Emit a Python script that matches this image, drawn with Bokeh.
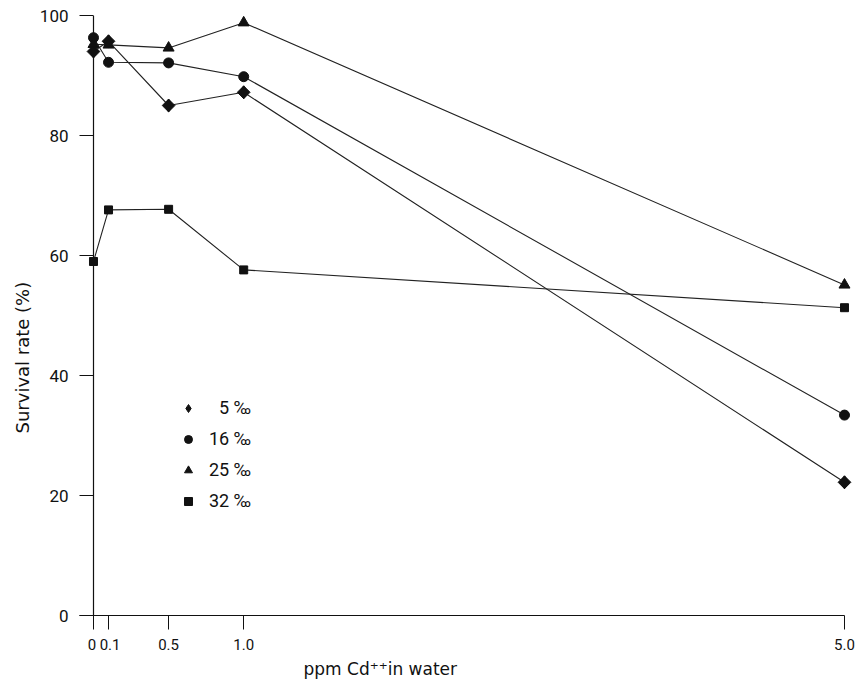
import math
from bokeh.plotting import figure
from bokeh.models import FixedTicker, Legend, LegendItem, Range1d, Title
from bokeh.embed import file_html
from bokeh.resources import INLINE

# ---- data ----
conc = [0, 0.1, 0.5, 1.0, 5.0]
surv_5 = [94.0, 95.7, 85.0, 87.2, 22.2]
surv_16 = [96.3, 92.2, 92.1, 89.8, 33.4]
surv_25 = [95.2, 95.1, 94.6, 98.8, 55.1]
surv_32 = [59.0, 67.6, 67.7, 57.6, 51.3]
series_labels = ["\u20075 ‰", "16 ‰", "25 ‰", "32 ‰"]
x_ticks = [0, 0.1, 0.5, 1.0, 5.0]
x_tick_labels = ["0\u2009", "\u20090.1", "0.5", "1.0", "5.0"]
y_ticks = [0, 20, 40, 60, 80, 100]
x_title = "ppm Cd\u207a\u207ain water"
y_title = "Survival rate (%)"

FONT = "Roboto"
TFONT = "DejaVu Sans"
INK = "#111111"

x0 = -0.0932
p = figure(width=859, height=679,
           x_range=Range1d(x0, 5.0866), y_range=Range1d(0, 100),
           output_backend="svg", toolbar_location=None,
           min_border_left=79, min_border_right=2,
           min_border_top=15, min_border_bottom=64)
p.outline_line_color = None
p.grid.visible = False
p.background_fill_color = "white"

# axes
xa = p.xaxis[0]
xa.ticker = FixedTicker(ticks=x_ticks)
xa.major_label_overrides = {t: l for t, l in zip(x_ticks, x_tick_labels)}
xa.bounds = (x0, 5.0)
xa.major_tick_in = 0
xa.major_tick_out = 14
xa.minor_tick_line_color = None
xa.axis_line_color = INK
xa.major_tick_line_color = INK
xa.major_label_standoff = 6
xa.major_label_text_font = FONT
xa.major_label_text_font_size = "15px"
xa.major_label_text_color = INK

ya = p.yaxis[0]
ya.ticker = FixedTicker(ticks=y_ticks)
ya.major_tick_in = 14
ya.major_tick_out = 0
ya.minor_tick_line_color = None
ya.axis_line_color = None
ya.major_tick_line_color = INK
ya.major_label_standoff = 11
ya.major_label_text_font = FONT
ya.major_label_text_font_size = "17px"
ya.major_label_text_color = INK

# y axis line at x = 0
p.segment(x0=[0], y0=[0], x1=[0], y1=[100], line_color=INK, line_width=1.2)

# (values, plot marker, size, angle, legend marker, legend size)
series = [
    (surv_5, "square", 9, math.pi / 4, "diamond", 13),
    (surv_16, "circle", 10, 0, None, None),
    (surv_25, "triangle", 11, 0, None, None),
    (surv_32, "square", 8, 0, None, None),
]
items = []
for (vals, mk, sz, ang, lmk, lsz), lab in zip(series, series_labels):
    p.line(conc, vals, line_color="#222222", line_width=1.1)
    lr = None
    if lmk is not None:
        # proxy glyph for the legend, hidden under the rotated squares
        lr = p.scatter(conc, vals, marker=lmk, size=lsz,
                       fill_color=INK, line_color=INK)
    r = p.scatter(conc, vals, marker=mk, size=sz, angle=ang,
                  fill_color=INK, line_color=INK)
    items.append(LegendItem(label=lab, renderers=[lr if lr is not None else r]))

legend = Legend(items=items, location=(99, 104), orientation="vertical",
                padding=0, margin=0, spacing=10,
                glyph_width=20, glyph_height=20, label_height=20,
                label_standoff=11,
                border_line_color=None, background_fill_alpha=0,
                label_text_font=FONT, label_text_font_size="18px",
                label_text_color=INK)
p.add_layout(legend, "center")

xt = Title(text=x_title, align="left", offset=224, standoff=0,
           text_font=TFONT, text_font_size="17px", text_font_style="normal",
           text_color=INK)
p.add_layout(xt, "below")
yt = Title(text=y_title, align="left", offset=182, standoff=8,
           text_font=TFONT, text_font_size="18px", text_font_style="normal",
           text_color=INK)
p.add_layout(yt, "left")

open("out.html", "w").write(file_html(p, INLINE))
